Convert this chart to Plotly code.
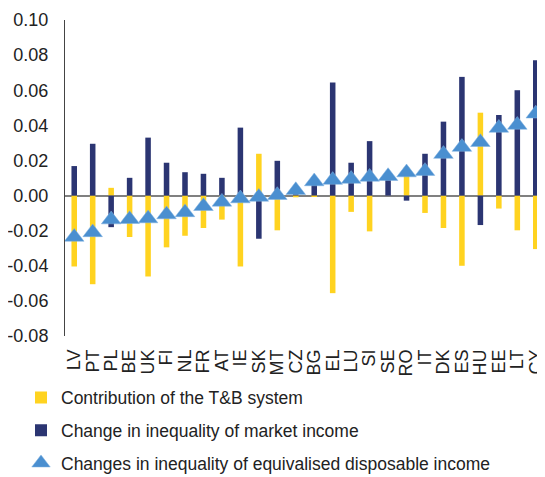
import plotly.graph_objects as go

countries = ["LV", "PT", "PL", "BE", "UK", "FI", "NL", "FR", "AT", "IE", "SK", "MT", "CZ", "BG",
             "EL", "LU", "SI", "SE", "RO", "IT", "DK", "ES", "HU", "EE", "LT", "CY"]

# contribution of the tax & benefit system
tb_contrib = [-0.0404, -0.0505, 0.0044, -0.0236, -0.0461, -0.0295, -0.0229, -0.0185, -0.0137, -0.0404,
              0.0238, -0.0198, -0.0010, -0.0005, -0.0556, -0.0093, -0.0204, 0.0000, 0.0160, -0.0099,
              -0.0185, -0.0400, 0.0472, -0.0074, -0.0198, -0.0305]

# change in inequality of market income
market = [0.0168, 0.0295, -0.0180, 0.0101, 0.0330, 0.0187, 0.0133, 0.0124, 0.0101, 0.0387,
          -0.0246, 0.0198, 0.0040, 0.0085, 0.0644, 0.0187, 0.0310, 0.0110, -0.0029, 0.0238,
          0.0421, 0.0676, -0.0168, 0.0459, 0.0600, 0.0771]

# change in inequality of equivalised disposable income
disposable = [-0.0236, -0.0210, -0.0137, -0.0135, -0.0131, -0.0108, -0.0096, -0.0061, -0.0036, -0.0017,
              -0.0008, 0.0002, 0.0030, 0.0080, 0.0088, 0.0094, 0.0106, 0.0110, 0.0131, 0.0139,
              0.0236, 0.0276, 0.0304, 0.0385, 0.0402, 0.0466]

y_ticks = [-0.08, -0.06, -0.04, -0.02, 0.0, 0.02, 0.04, 0.06, 0.08, 0.10]
y_labels = ["-0.08", "-0.06", "-0.04", "-0.02", "0.00", "0.02", "0.04", "0.06", "0.08", "0.10"]

fig = go.Figure()
fig.add_trace(go.Bar(x=countries, y=tb_contrib, name="Contribution of the T&B system",
                     legendgroup="a", marker=dict(color="#FFD320", line=dict(width=0)), width=0.3))
fig.add_trace(go.Bar(x=countries, y=market, name="Change in inequality of market income",
                     legendgroup="b", marker=dict(color="#2B3572", line=dict(width=0)), width=0.3))
fig.add_trace(go.Scatter(x=countries, y=disposable, mode="markers", legendgroup="c",
                         name="Changes in inequality of equivalised disposable income",
                         marker=dict(symbol="triangle-up", size=17, color="#4A8FD0",
                                     line=dict(color="#7FB0E0", width=0.5))))

# page body has an 8px margin; figure is made a bit taller so the legend
# fits inside it and doesn't squeeze the plot area
W, H = 537, 490
fig.update_layout(
    barmode="relative",
    width=W, height=H,
    margin=dict(l=0, r=0, t=12, b=H - 328),
    plot_bgcolor="white", paper_bgcolor="white",
    font=dict(family="Liberation Sans, Arial", size=17, color="#222222"),
    showlegend=True,
    legend=dict(orientation="v", x=13 / W, xanchor="left", y=-0.138, yanchor="top",
                font=dict(size=17.5), tracegroupgap=7, bgcolor="rgba(0,0,0,0)"),
)
fig.update_xaxes(domain=[57 / W, 1], range=[-0.5, len(countries) - 0.5],
                 tickangle=-90, showline=False, ticks="", tickfont=dict(size=18),
                 tickmode="array", tickvals=countries, ticklabelstandoff=9, automargin=False)
fig.update_yaxes(range=[-0.08, 0.10], tickmode="array", tickvals=y_ticks, ticktext=y_labels,
                 showgrid=False, showline=True, linecolor="#444444", linewidth=1,
                 zeroline=True, zerolinecolor="#808080", zerolinewidth=2,
                 tickfont=dict(size=18), ticks="", ticklabelstandoff=12, automargin=False)

fig.write_html("out.html")
